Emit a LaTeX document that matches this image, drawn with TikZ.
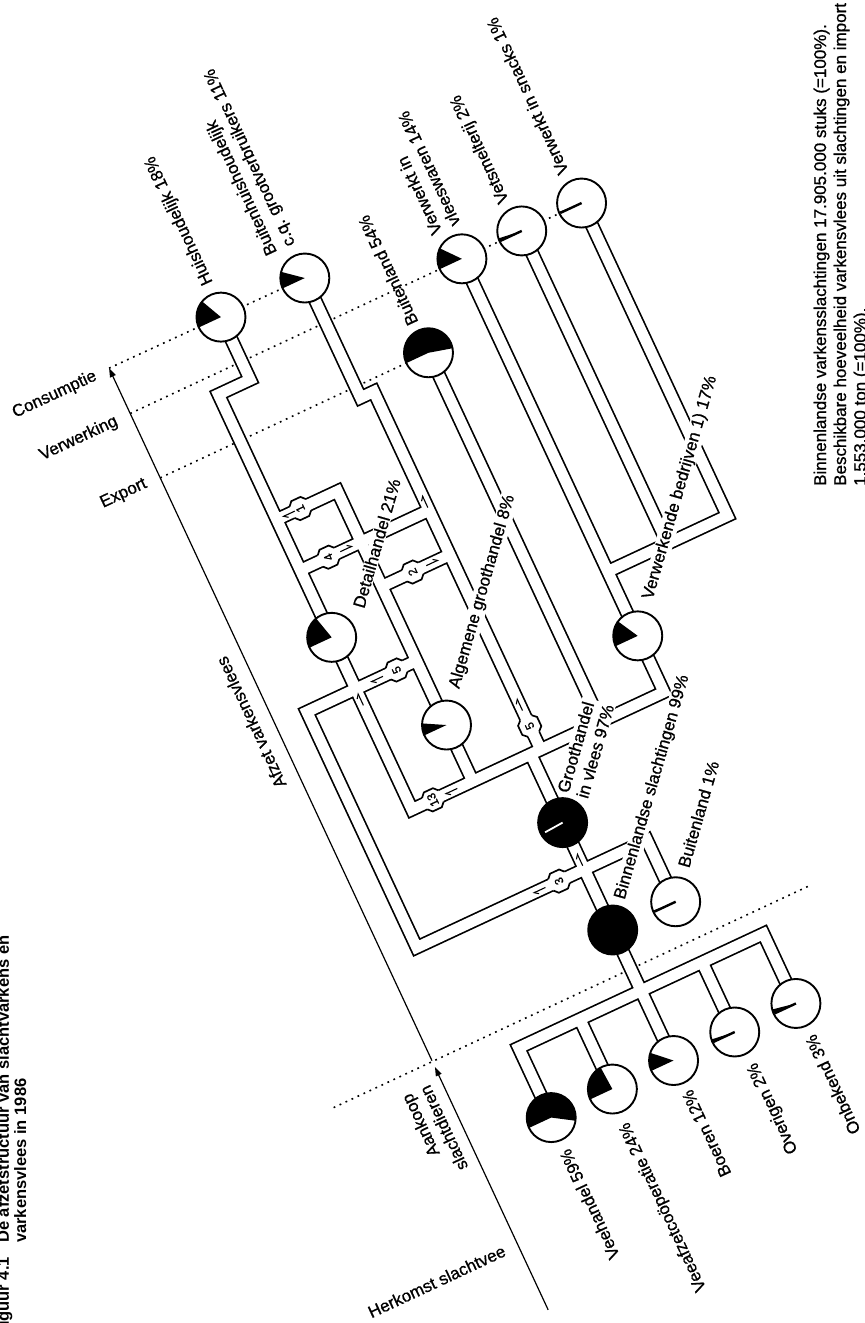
\documentclass[tikz,border=0pt]{standalone}
\usepackage{fontspec}
\setmainfont{Liberation Sans}
\newfontfamily\lblfont[FakeBold=0.9]{Liberation Sans}
\usetikzlibrary{arrows.meta}
\newcommand\mypie[2]{%
  \fill[white] (#1) circle[radius=24.5];
  \fill (#1) -- ++({180-3.6*#2}:24.5) arc[start angle={180-3.6*#2}, end angle=180, radius=24.5] -- cycle;
  \node[circle, draw, line width=1.9, minimum size=49pt, inner sep=0pt] (#1-pie) at (#1) {};}
\newcommand\fullpie[1]{%
  \node[circle, draw, fill=black, line width=1.9, minimum size=49pt, inner sep=0pt] (#1-pie) at (#1) {};}
\newcommand\thinwedge[1]{\draw[line width=2.4] (#1) -- ++(180:23.5);}
\newcommand\flowmark[4]{%
  \begin{scope}[shift={(#1,#2)},rotate=#3]
    \fill[white] (-9,6.25)--(-5,10.5)--(5,10.5)--(9,6.25)--(9,-6.25)--(5,-10.5)--(-5,-10.5)--(-9,-6.25)--cycle;
    \draw[edge] (-9,6.25)--(-5,10.5)--(5,10.5)--(9,6.25);
    \draw[edge] (-9,-6.25)--(-5,-10.5)--(5,-10.5)--(9,-6.25);
  \end{scope}
  \node[num,rotate=115] at (#1,#2) {#4};}
\newcommand\flowarrow[3]{%
  \begin{scope}[shift={(#1,#2)},rotate=#3]
    \draw[line width=1.1,-{Straight Barb[left,length=4pt,width=6pt]}] (-7,0) -- (7,0);
  \end{scope}}
\tikzset{chans/.style={insert path={
  (pHH) -- (-96,652) -- (-131,652) -- (-131,194) -- (147,194) -- (pVV)
  (pGH) -- (0,194)
  (-64,194) -- (-64,514) -- (-131,514)
  (-64,409) -- (11,409)
  (-131,458) -- (11,458)
  (11,194) -- (11,589) -- (-3.5,589) -- (pBH)
  (77,194) -- (pBLe)
  (147,327) -- (279,327) -- (pSN)
  (213,327) -- (pVS)
  (pBS) -- (pGH)
  (-64,327) -- (-185,327) -- (-185,67) -- (69,67) -- (pBLi)
  (pVH) -- (-135,-67) -- (135,-67) -- (pON)
  (pBS) -- (pBO)
  (-67.5,-67) -- (pVC)
  (67.5,-67) -- (pOV)
}}}
\begin{document}
\begin{tikzpicture}[x=1pt,y=1pt,
  lbl/.style={font=\lblfont\fontsize{17}{20}\selectfont, inner sep=1pt},
  lblw/.style={lbl, fill=white},
  ttl/.style={font=\bfseries\fontsize{16.5}{19}\selectfont, inner sep=0pt},
  num/.style={font=\lblfont\fontsize{12}{12}\selectfont, inner sep=0pt},
  edge/.style={line width=1.7},
  dots/.style={line width=1.6, dash pattern=on 1.8pt off 4.8pt},
  axisline/.style={line width=1.2, -{Triangle[length=9pt,width=6pt]}},
]
\useasboundingbox (0,0) rectangle (865,-1323);
\clip (0,0) rectangle (865,-1323);
\begin{scope}[shift={(612.7,-930)},rotate=25]
  % pie centres
  \coordinate (pBS) at (0,0);
  \coordinate (pGH) at (0,118.5);
  \coordinate (pBLi) at (69,-1);
  \coordinate (pVH) at (-135,-144);
  \coordinate (pVC) at (-67.5,-144);
  \coordinate (pBO) at (0,-144);
  \coordinate (pOV) at (67.5,-144);
  \coordinate (pON) at (135,-144);
  \coordinate (pAG) at (-64,256);
  \coordinate (pDH) at (-131,384);
  \coordinate (pVB) at (147,256);
  \coordinate (pBLe) at (77,601);
  \coordinate (pHH) at (-96,721);
  \coordinate (pBH) at (-3.5,721);
  \coordinate (pVV) at (147,672);
  \coordinate (pVS) at (213,672);
  \coordinate (pSN) at (279,672);
  \coordinate (axTop) at (-219,722);
  \coordinate (axMid) at (-219,-42);
  \coordinate (axLow) at (-219,-49);
  \coordinate (axBot) at (-219,-317);
  \coordinate (dA1) at (-328,-43);
  \coordinate (dA2) at (196,-43);
  \coordinate (dE) at (-219,601);
  \coordinate (dV) at (-219,672);
  % dotted level lines
  \draw[dots] (dA1) -- (dA2);
  \draw[dots] (dE) -- (pBLe);
  \draw[dots] (dV) -- (pSN);
  \draw[dots] (axTop) -- (pBH);
  % axes
  \draw[axisline] (axMid) -- (axTop);
  \draw[axisline] (axBot) -- (axLow);
  % channels
  \draw[line width=14.2, line join=miter, chans];
  \draw[white, line width=10.8, line join=miter, chans];
  % flow markers
  \flowmark{-108}{194}{0}{13}
  \flowmark{-28}{67}{0}{3}
  \flowmark{-86}{327}{0}{5}
  \flowmark{-30}{409}{0}{2}
  \flowmark{-100}{458}{0}{4}
  \flowmark{-105}{514}{0}{1}
  \flowmark{11}{220}{90}{5}
  \flowarrow{-88}{194}{180}
  \flowarrow{-50}{67}{180}
  \flowarrow{-108}{327}{180}
  \flowarrow{-8}{409}{0}
  \flowarrow{-80}{458}{0}
  \flowarrow{-118}{514}{180}
  \flowarrow{11}{244}{90}
  \flowarrow{0}{78}{90}
  \flowarrow{-131}{316}{90}
  \flowarrow{11}{468}{90}
  % labels along the flow
  \node[lbl, rotate=115, anchor=west] at (-93,755) {Huishoudelijk 18\%};
  \node[lbl, rotate=115, anchor=west, align=left] at (-12,755) {Buitenhuishoudelijk\\c.q. grootverbruikers 11\%};
  \node[lbl, rotate=115, anchor=west] at (75,632) {Buitenland 54\%};
  \node[lbl, rotate=115, anchor=west, align=left] at (145,704) {Verwerkt in\\vleeswaren 14\%};
  \node[lbl, rotate=115, anchor=west] at (210,704) {Vetsmelterij 2\%};
  \node[lbl, rotate=115, anchor=west] at (275,705) {Verwerkt in snacks 1\%};
  \node[lbl, rotate=115, anchor=east] at (-137,-178) {Veehandel 59\%};
  \node[lbl, rotate=115, anchor=east] at (-71,-179) {Veeafzetcoöperatie 24\%};
  \node[lbl, rotate=115, anchor=east] at (-1,-176) {Boeren 12\%};
  \node[lbl, rotate=115, anchor=east] at (70,-179) {Overigen 2\%};
  \node[lbl, rotate=115, anchor=east] at (134,-178) {Onbekend 3\%};
  \node[lbl, rotate=115] at (-240,341) {Afzet varkensvlees};
  \node[lbl, rotate=115, anchor=east, align=right] at (-247,-61) {Aankoop\\slachtdieren};
  \node[lbl, rotate=25] at (-308,-244) {Herkomst slachtvee};
  \node[lbl, rotate=25, anchor=east] at (-233,721) {Consumptie};
  \node[lbl, rotate=25, anchor=east] at (-233,671) {Verwerking};
  \node[lbl, rotate=25, anchor=east] at (-233,602) {Export};
\end{scope}
% labels in the middle
\node[lblw, rotate=74] at (376.7,-543.3) {Detailhandel 21\%};
\node[lblw, rotate=74] at (482.5,-591.7) {Algemene groothandel 8\%};
\node[lblw, rotate=74, anchor=west, align=left] at (572,-796) {Groothandel\\in vlees 97\%};
\node[lblw, rotate=74, anchor=west] at (620,-900) {Binnenlandse slachtingen 99\%};
\node[lbl, rotate=74, anchor=west] at (683,-868) {Buitenland 1\%};
\node[lblw, rotate=74, anchor=west] at (648,-600) {Verwerkende bedrijven 1) 17\%};
% pies
\begin{scope}[shift={(612.7,-930)},rotate=25]
  \fullpie{pBS}
  \fullpie{pGH}
  \draw[white, line width=1.8] (pGH) -- ++(184:20);
  \mypie{pBLi}{1}\thinwedge{pBLi}
  \mypie{pVH}{59}
  \mypie{pVC}{24}
  \mypie{pBO}{12}
  \mypie{pOV}{2}\thinwedge{pOV}
  \mypie{pON}{3}\thinwedge{pON}
  \mypie{pAG}{8}
  \mypie{pDH}{21}
  \mypie{pVB}{17}
  \mypie{pBLe}{54}
  \mypie{pHH}{18}
  \mypie{pBH}{11}
  \mypie{pVV}{14}
  \mypie{pVS}{2}\thinwedge{pVS}
  \mypie{pSN}{1}\thinwedge{pSN}
\end{scope}
% side texts
\node[lbl, rotate=90, anchor=base west] at (826,-487) {Binnenlandse varkensslachtingen 17.905.000 stuks (=100\%).};
\node[lbl, rotate=90, anchor=base west] at (846,-487) {Beschikbare hoeveelheid varkensvlees uit slachtingen en import};
\node[lbl, rotate=90, anchor=base west] at (866,-487) {1.553.000 ton (=100\%).};
\node[ttl, rotate=90, anchor=base west] at (9,-1243) {De afzetstructuur van slachtvarkens en};
\node[ttl, rotate=90, anchor=base east] at (9,-1257) {Figuur 4.1};
\node[ttl, rotate=90, anchor=base west] at (26,-1243) {varkensvlees in 1986};
\end{tikzpicture}
\end{document}
